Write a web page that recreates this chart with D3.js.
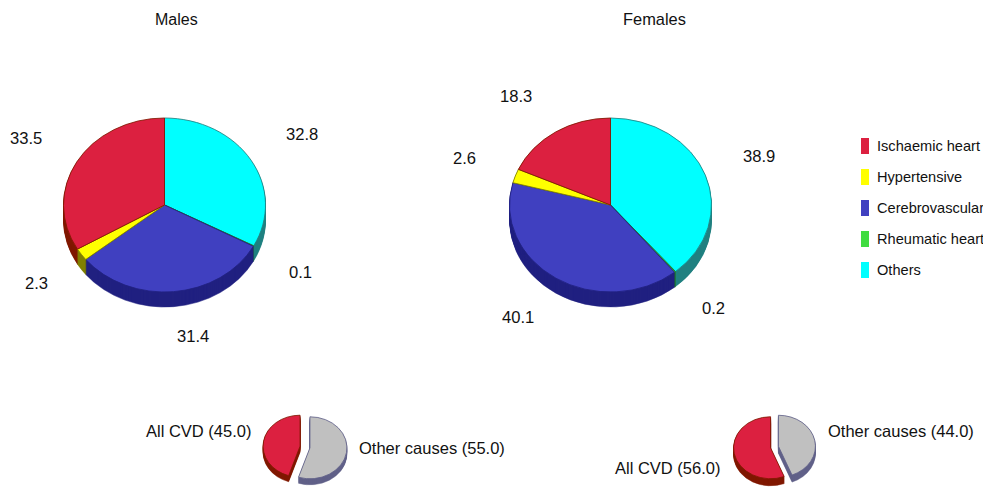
<!DOCTYPE html>
<html>
<head>
<meta charset="utf-8">
<style>
  html, body { margin: 0; padding: 0; background: #fff; }
  svg { display: block; }
  text { font-family: "Liberation Sans", Arial, sans-serif; fill: #111; }
</style>
<script src="https://cdn.jsdelivr.net/npm/d3@7/dist/d3.min.js"></script>
</head>
<body>
<svg id="chart" width="983" height="487"></svg>
<script>
// Cause-of-death shares, listed clockwise from twelve o'clock.
const causes = ["Others", "Rheumatic heart", "Cerebrovascular", "Hypertensive", "Ischaemic heart"];
const maleValues = [32.8, 0.1, 31.4, 2.3, 33.5];
const femaleValues = [38.9, 0.2, 40.1, 2.6, 18.3];
const legendOrder = ["Ischaemic heart", "Hypertensive", "Cerebrovascular", "Rheumatic heart", "Others"];

const splitGroups = ["Other causes", "All CVD"];
const maleSplit = [55.0, 45.0];
const femaleSplit = [44.0, 56.0];

// Face and wall colours for each slice.
const faceColors = ["#00ffff", "#40dc40", "#4040c0", "#ffff00", "#dc2040"];
const wallColors = ["#208080", "#208020", "#202080", "#808000", "#801800"];
const splitFaces = ["#c0c0c0", "#dc2040"];
const splitWalls = ["#606088", "#801800"];

const svg = d3.select("#chart");
const pie = d3.pie().sort(null).startAngle(0).endAngle(2 * Math.PI);

// Draws a tilted pie: a d3 arc squashed vertically, extruded by stacking
// wall-coloured copies underneath the top face.
function drawPie({ cx, cy, rx, ry, depth, values, keys, faces, walls, explode = 0 }) {
  const arc = d3.arc().innerRadius(0).outerRadius(rx);
  const g = svg.append("g").attr("transform", `translate(${cx},${cy})`);
  const slices = pie(values).map((d, i) => {
    const mid = (d.startAngle + d.endAngle) / 2;
    return {
      d, key: keys[i], face: faces(keys[i]), wall: walls(keys[i]),
      dx: explode * Math.sin(mid), dy: -explode * Math.cos(mid)
    };
  });
  const place = (s, lift) =>
    `translate(${s.dx},${s.dy + lift}) scale(1,${ry / rx})`;

  d3.range(depth, 0, -1).forEach(lift => {
    g.selectAll(null).data(slices).join("path")
      .attr("d", s => arc(s.d))
      .attr("transform", s => place(s, lift))
      .attr("fill", s => s.wall)
      .attr("stroke", s => s.wall)
      .attr("stroke-width", 0.6);
  });
  g.selectAll(null).data(slices).join("path")
    .attr("d", s => arc(s.d))
    .attr("transform", s => place(s, 0))
    .attr("fill", s => s.face)
    .attr("stroke", s => s.wall)
    .attr("stroke-width", 0.9);
}

const faceScale = d3.scaleOrdinal(causes, faceColors);
const wallScale = d3.scaleOrdinal(causes, wallColors);
const splitFaceScale = d3.scaleOrdinal(splitGroups, splitFaces);
const splitWallScale = d3.scaleOrdinal(splitGroups, splitWalls);

drawPie({ cx: 164.5, cy: 205, rx: 101, ry: 87, depth: 15, values: maleValues, keys: causes, faces: faceScale, walls: wallScale });
drawPie({ cx: 610.5, cy: 205, rx: 101, ry: 87, depth: 15, values: femaleValues, keys: causes, faces: faceScale, walls: wallScale });
drawPie({ cx: 305, cy: 447, rx: 37, ry: 31, depth: 6, values: maleSplit, keys: splitGroups, faces: splitFaceScale, walls: splitWallScale, explode: 5 });
drawPie({ cx: 774.5, cy: 447, rx: 37, ry: 31, depth: 7, values: femaleSplit, keys: splitGroups, faces: splitFaceScale, walls: splitWallScale, explode: 4 });

// Text labels are written out from the values so they can't drift from the slices.
const fmt = d3.format(".1f");
const label = (x, y, str, size = 16.6) =>
  svg.append("text").attr("x", x).attr("y", y)
    .attr("dy", "0.35em").attr("font-size", size).text(str);

label(155, 19, "Males", 16);
label(623, 19, "Females", 16.4);

const maleSpots = [[286, 134], [289, 272], [177, 336], [25, 283], [10, 138]];
const femaleSpots = [[743, 156], [702, 308], [502, 317], [453, 158], [500, 96]];
maleValues.forEach((v, i) => label(maleSpots[i][0], maleSpots[i][1], fmt(v)));
femaleValues.forEach((v, i) => label(femaleSpots[i][0], femaleSpots[i][1], fmt(v)));

const maleSplitSpots = [[359, 448], [146, 431]];
const femaleSplitSpots = [[828, 431], [615, 468]];
const splitText = (g, v) => `${g} (${fmt(v)})`;
splitGroups.forEach((g, i) => {
  label(maleSplitSpots[i][0], maleSplitSpots[i][1], splitText(g, maleSplit[i]), 16.5);
  label(femaleSplitSpots[i][0], femaleSplitSpots[i][1], splitText(g, femaleSplit[i]), 16.5);
});

// Legend column.
const legendY = d3.scalePoint(legendOrder, [146, 270]);
const legend = svg.append("g");
legend.selectAll("rect").data(legendOrder).join("rect")
  .attr("x", 861).attr("width", 8)
  .attr("y", d => legendY(d) - 8).attr("height", 16)
  .attr("fill", d => faceScale(d));
legend.selectAll("text").data(legendOrder).join("text")
  .attr("x", 877).attr("y", d => legendY(d))
  .attr("dy", "0.35em").attr("font-size", 14.6).text(d => d);
</script>
</body>
</html>
